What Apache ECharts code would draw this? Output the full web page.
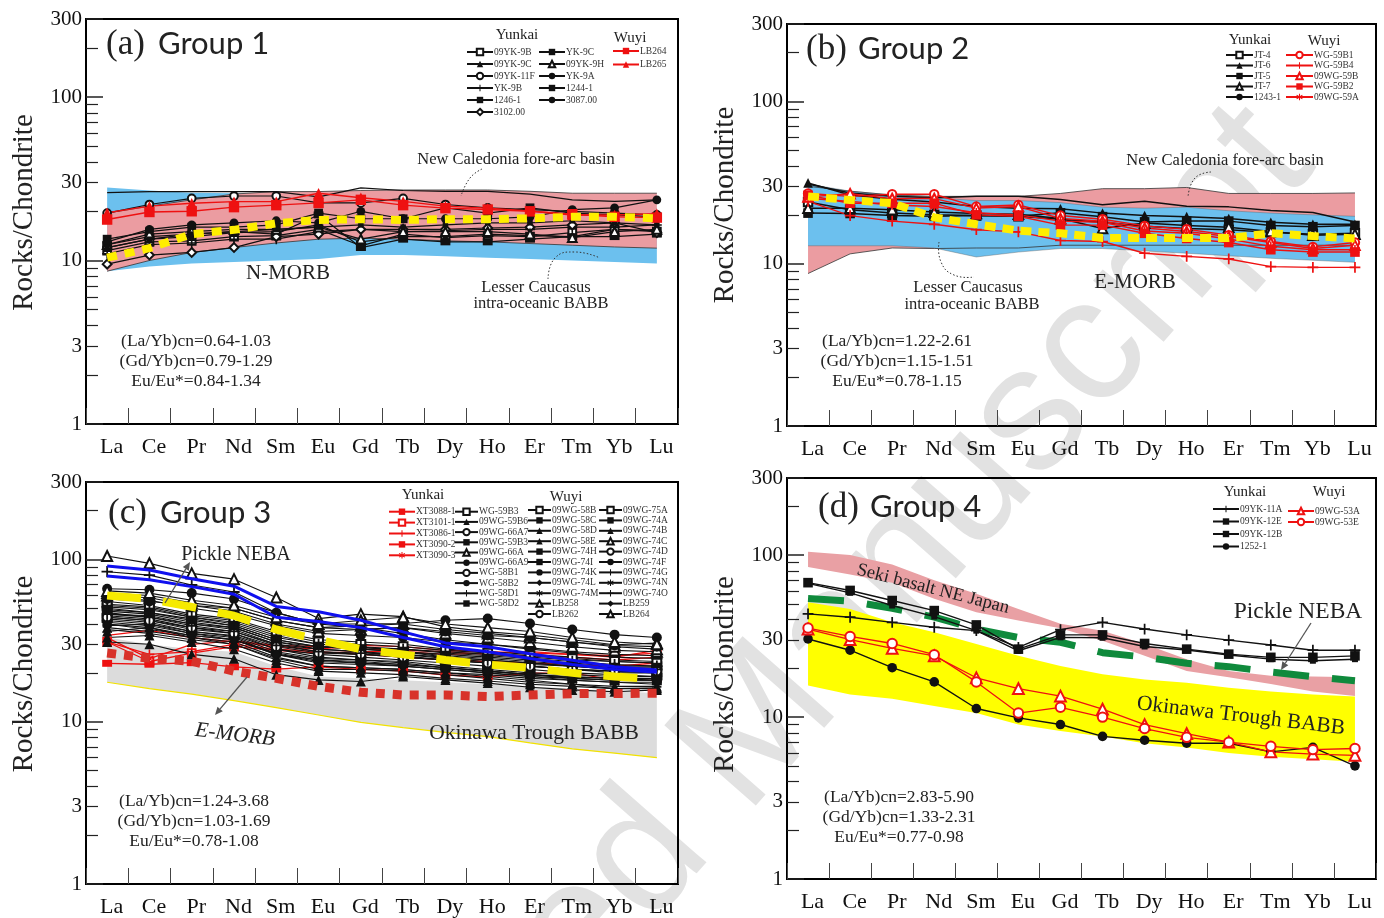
<!DOCTYPE html>
<html><head><meta charset="utf-8">
<script src="https://cdn.jsdelivr.net/npm/echarts@6/dist/echarts.min.js"></script>
<style>
html,body{margin:0;padding:0;background:#fff;width:1384px;height:918px;overflow:hidden}
.ch{position:absolute;left:0;top:0;width:1384px;height:918px}
</style></head><body>
<div id="cw" class="ch"></div>
<div id="ca" class="ch"></div><div id="cb" class="ch"></div><div id="cc" class="ch"></div><div id="cd" class="ch"></div>
<script>
// ---------------- DATA ----------------
const ELEMENTS = ['La','Ce','Pr','Nd','Sm','Eu','Gd','Tb','Dy','Ho','Er','Tm','Yb','Lu'];
const Y_LABELS = [1,3,10,30,100,300];
const Y_MINOR = [2,3,4,5,6,7,8,9,20,30,40,50,60,70,80,90,200];

// (a) Group 1
const A_YK_NAMES_1 = ['09YK-9B','09YK-9C','09YK-11F','YK-9B','1246-1','3102.00'];
const A_YK_NAMES_2 = ['YK-9C','09YK-9H','YK-9A','1244-1','3087.00'];
const A_WY_NAMES = ['LB264','LB265'];
const A_YK_VALUES = [
  [11.5,13.0,13.2,14.0,14.2,15.5,12.3,14.5,13.8,14.2,14.0,14.8,15.5,15.0],
  [12.0,13.5,14.0,14.8,15.0,16.5,13.0,14.0,14.0,14.5,14.2,14.0,15.5,15.2],
  [19.5,22.0,24.0,24.8,24.8,22.5,22.5,24.0,22.0,21.0,20.5,20.0,19.5,19.0],
  [11.0,12.5,12.8,13.5,13.5,15.0,15.5,15.0,15.2,15.5,15.5,16.0,16.0,16.5],
  [12.5,14.0,14.5,15.0,14.5,19.0,12.0,13.5,13.0,13.0,13.5,14.0,14.0,14.5],
  [9.5,10.8,11.2,12.0,14.0,14.5,15.5,15.5,15.5,15.8,16.0,16.5,17.0,14.8],
  [13.5,15.0,16.0,16.0,16.5,19.5,18.0,18.0,21.0,19.5,21.0,19.5,19.0,18.5],
  [12.5,14.5,15.0,15.5,15.5,16.0,13.5,15.0,15.0,15.0,14.5,13.8,15.0,15.5],
  [13.0,15.5,16.5,17.0,17.5,17.0,20.0,18.0,18.0,18.0,18.5,20.5,21.0,23.5],
  [12.0,13.5,14.5,15.0,15.5,16.0,16.5,16.0,16.5,17.0,17.0,17.5,17.0,16.5],
  [26.0,26.4,26.4,26.4,26.4,24.5,27.8,26.8,26.5,26.5,25.5,23.5,23.0,23.5]
];
const A_WY_VALUES = [
  [17.8,19.8,20.0,21.2,21.8,22.5,23.5,21.8,20.9,20.5,20.0,19.2,18.5,18.3],
  [19.6,21.5,22.4,22.9,22.9,25.8,24.2,23.0,21.5,20.9,20.1,19.0,19.0,19.3]
];
const A_NMORB = [10.4,11.9,14.5,15.4,16.9,17.7,17.9,17.7,17.9,17.9,18.1,18.5,18.5,18.1];
const A_NEWCAL_LOW = [8.6,10.0,11.2,12.0,12.8,13.5,13.7,13.5,13.2,13.0,12.7,12.4,12.1,11.9];
const A_NEWCAL_HIGH = [19.5,21.5,23.5,25.5,26.4,26.4,26.8,27.0,27.0,27.0,26.5,25.8,25.8,25.8];
const A_LESSER_LOW = [8.6,9.2,9.6,9.8,10.0,10.2,10.8,10.8,10.6,10.4,10.2,10.0,9.8,9.6];
const A_LESSER_HIGH = [28.0,26.8,26.0,25.8,25.5,25.0,24.5,24.0,23.5,23.0,22.5,22.0,21.5,21.0];

// (b) Group 2
const B_YK_NAMES = ['JT-4','JT-6','JT-5','JT-7','1243-1'];
const B_WY_NAMES = ['WG-59B1','WG-59B4','09WG-59B','WG-59B2','09WG-59A'];
const B_YK_VALUES = [
  [24.0,21.5,20.5,20.0,19.8,19.6,18.8,18.0,17.0,16.5,16.2,15.6,15.2,15.4],
  [31.5,26.5,25.0,24.0,22.5,22.0,21.8,20.5,19.8,19.5,19.0,18.0,17.5,17.5],
  [20.5,20.4,19.8,19.6,19.8,19.6,20.6,19.5,18.1,18.3,18.3,17.2,16.9,17.2],
  [22.0,22.0,21.5,20.8,20.4,20.2,19.0,16.5,17.8,17.2,16.8,15.8,15.0,15.2],
  [31.0,27.3,26.0,25.5,26.0,26.0,24.9,23.1,24.3,22.6,22.4,21.3,20.7,18.1]
];
const B_WY_VALUES = [
  [27.1,26.0,26.8,26.8,22.5,23.0,19.8,18.8,17.1,16.3,15.0,13.7,12.7,13.5],
  [24.2,19.8,18.3,17.5,16.2,15.7,13.9,13.7,11.6,11.1,10.7,9.6,9.5,9.5],
  [25.8,27.0,25.2,25.2,22.0,22.5,19.0,18.3,16.6,15.8,14.7,13.5,12.4,13.0],
  [26.4,23.6,23.6,23.6,20.0,19.6,17.3,17.3,15.4,14.3,13.5,12.2,11.8,11.8],
  [25.3,24.2,23.0,22.5,20.6,20.0,18.3,18.0,15.9,15.4,14.2,12.8,12.2,12.2]
];
const B_EMORB = [26.0,24.7,23.6,19.3,17.5,16.0,15.4,14.4,14.4,14.4,14.4,15.4,14.8,14.3];
const B_NEWCAL_LOW = [8.7,11.5,12.5,12.4,12.5,12.5,13.0,13.0,13.0,13.0,13.0,13.0,13.0,13.0];
const B_NEWCAL_HIGH = [30.0,28.0,26.5,26.0,26.0,26.0,27.1,29.0,29.0,29.5,27.1,27.1,27.1,27.3];
const B_LESSER_LOW = [12.9,12.9,12.9,12.5,11.0,11.8,12.4,12.4,12.0,11.6,11.2,10.8,10.5,10.2];
const B_LESSER_HIGH = [31.0,28.0,26.5,25.5,24.5,24.5,23.8,22.3,22.0,22.3,21.2,20.5,20.0,19.6];

// (c) Group 3
const C_YK_NAMES = ['XT3088-1','XT3101-1','XT3086-1','XT3090-2','XT3090-3'];
const C_WY_NAMES_1 = ['WG-59B3','09WG-59B6','09WG-66A7','09WG-59B3','09WG-66A','09WG-66A9','WG-58B1','WG-58B2','WG-58D1','WG-58D2'];
const C_WY_NAMES_2 = ['09WG-58B','09WG-58C','09WG-58D','09WG-58E','09WG-74H','09WG-74I','09WG-74K','09WG-74L','09WG-74M','LB258','LB262'];
const C_WY_NAMES_3 = ['09WG-75A','09WG-74A','09WG-74B','09WG-74C','09WG-74D','09WG-74F','09WG-74G','09WG-74N','09WG-74O','LB259','LB264'];
const C_YK_VALUES = [
  [34,36.5,33,31,29,28,29.5,29,27.5,27,26.5,26,25,27.5],
  [31,23.5,26.5,29,27.5,26.5,27,27,26,26.5,27,26,25.5,26.5],
  [31,26,27,30,28,27,26,25,24,23.5,23,22.5,22,23],
  [22.9,22.6,23.1,21.8,21.1,21.8,21.0,20.6,19.4,18.9,19.9,19.9,18.1,18.5],
  [33,24.5,30,31.5,29.5,29,28,27.5,27,26,25.5,25,24,25]
];
const C_WY_VALUES_1 = [
  [52,50,44,40,33,30,29,27,25,24,23,22,21,20.5],
  [31,30,26,24.4,19.5,18.1,17.7,19,18.1,17.3,16.3,15.7,15.3,15.7],
  [45,43,38,36,30,28,27,26,24.5,23.5,22.5,22,21,21],
  [48,46,41,38,31,28,27,25,24,23,22,21,20,20],
  [105,94.6,82,75.6,58.3,43.2,46,44.4,38.4,35.8,34.2,32,29.8,30.5],
  [66,65,62,57,47,40,40,40.3,42.2,43.2,40.3,37,34.4,33],
  [42,40,36,34,28,26,25,24,23,22,21,20,19.5,19],
  [58,56,50,46,39,35,34,33,31,30,28.5,27,26,25.5],
  [84,80,69.6,63,47,40,38,35,32,30,28,26.5,25,24.5],
  [40,37,34,32,26,24,23,22,21,20,19,18.5,18,18]
];
const C_WY_VALUES_2 = [
  [50,47,43,39,32,29,28,27,26,25,24,23,22,22],
  [44,42,37,35,28,25,24,23,21.5,20.5,19.5,18.5,18,18],
  [38,36,33,31,25,22,21.5,21,20,19,18,17,16.5,16.5],
  [36,38,33,30,24,21,21,20.5,19.5,18.5,17.5,17,16,16.2],
  [47,44,40,37,30,27,26,25.5,24,23,22,21,20.5,20],
  [43,41,36,33.5,27,24.5,24,23.5,22,21,20,19.5,19,19],
  [55,52,46,43,36,32,31,30,28,27,26,25,24,23.5],
  [39,40,35,33,26,23,22.5,22,21,20,19,18,17.5,17.5],
  [41,39,35,32,26.5,24,23.5,22.5,21.5,20.5,19.5,19,18.5,18.5],
  [60,58,52,48,40,36,37,38,35,33,31,29,27.5,27],
  [46,45,40,38,31,29,28.5,28,27,26,25,24,23.5,23]
];
const C_WY_VALUES_3 = [
  [53,51,45,42,35,31,30,29,27.5,26.5,25.5,24.5,23.5,23],
  [49,47,42,39,32,29,28,27,25.5,24.5,23.5,22.5,21.5,21.5],
  [33,34,31,28,23,20.5,20,19.5,18.5,17.8,17,16.5,16,16],
  [62,60,54,50,42,38,39,40,37,35,33,31,29,28],
  [44,42,38,35,29,26.5,26,25,24,23,22,21,20.5,20.5],
  [57,55,52,50,42,38,37,38,36,34,33,31,29.5,29],
  [51,49,44,41,34,30,29,28,26.5,25.5,24.5,23.5,22.5,22],
  [37,35,32,30,24.5,22,21.5,21,20,19.5,18.5,18,17.5,17],
  [46,44,39,36,29.5,27,26.5,26,25,24,23,22,21.5,21],
  [40,38,34,32,26,23.5,23,22.5,21.5,20.5,19.5,18.8,18.5,18],
  [64,62,56,52,44,40,42,44,40,38,36,33,31,30]
];
const C_BLUE_1 = [91,86,76,68.4,51.3,47.6,42.2,35.8,30.6,29.0,26.2,23.9,21.8,20.8];
const C_BLUE_2 = [79,75,68,61,44,41.5,38,33,29,27,24.5,22.5,21,20.2];
const C_PICKLE = [60,57,51,45,37,32,28,26,24,22.5,21.5,20,19,18.2];
const C_EMORB = [26.5,24.6,23.6,20.5,18.5,16.5,15.2,14.6,14.6,14.3,14.6,14.9,14.9,15.0];
const C_OKINAWA_LOW = [17.5,16.0,14.8,13.5,12.2,11.0,9.9,9.2,8.6,8.1,7.4,6.8,6.4,6.0];
const C_OKINAWA_HIGH = [33,30,28,27,22,19,18.5,18,17.5,17,16.5,16,15.5,15];

// (d) Group 4
const D_YK_NAMES = ['09YK-11A','09YK-12E','09YK-12B','1252-1'];
const D_WY_NAMES = ['09WG-53A','09WG-53E'];
const D_YK_VALUES = [
  [43.4,41.4,38.5,35.9,34.2,27.0,34.7,38.5,35.0,32.2,29.9,27.9,25.9,25.9],
  [67.7,60.6,52.5,45.5,37.1,26.3,32.2,32.2,28.5,26.3,24.5,23.4,23.4,23.9],
  [67.0,58.6,48.9,41.8,34.2,25.7,31.1,30.9,27.3,26.0,24.2,22.8,22.3,22.8],
  [30.4,25.9,20.2,16.5,11.3,9.9,9.0,7.6,7.2,6.9,6.9,6.1,6.5,5.0]
];
const D_WY_VALUES = [
  [35.0,30.1,26.6,23.9,17.5,15.0,13.5,11.2,9.0,7.9,7.0,6.1,5.9,5.8],
  [35.5,31.5,28.5,24.3,16.5,10.6,11.5,10.0,8.5,7.5,7.0,6.6,6.3,6.4]
];
const D_PICKLE = [54,52,47,41.5,35,31,29,25,23.5,21.5,20.5,19,17.8,16.8];
const D_SEKI_LOW = [84.6,75.9,67.7,53.8,44.5,39.5,35.4,29.6,23.9,19.3,17.6,16.0,14.4,13.5];
const D_SEKI_HIGH = [105,100.5,87.5,70,57.8,46.6,37.8,34.2,28.3,22.8,19.3,18.0,17.8,17.6];
const D_OKINAWA_LOW = [15.7,13.8,13.0,11.7,10.6,9.0,8.2,7.6,6.9,6.5,6.0,5.7,5.5,5.3];
const D_OKINAWA_HIGH = [51.3,46.6,38.5,33.4,28.3,23.9,20.7,18.4,17.1,16.3,15.2,14.4,13.8,13.4];

// ---------------- STYLE ----------------
const SERIF = "'Liberation Serif','Times New Roman',serif";
const SANS = "Lato,'Open Sans',sans-serif";
const SYM = {
  oSq:'emptyRect', sq:'rect', tri:'triangle', oTri:'emptyTriangle', oCir:'emptyCircle', cir:'circle',
  plus:'path://M4.2,0H5.8V4.2H10V5.8H5.8V10H4.2V5.8H0V4.2H4.2Z',
  star:'path://M4.3,0H5.7V3.3L8.6,1.4L9.4,2.6L6.5,4.6V5.4L9.4,7.4L8.6,8.6L5.7,6.7V10H4.3V6.7L1.4,8.6L0.6,7.4L3.5,5.4V4.6L0.6,2.6L1.4,1.4L4.3,3.3Z',
  dia:'diamond', oDia:'emptyDiamond', none:'none', bar:'path://M0,2.5H10V7.5H0Z', smSq:'rect'
};
const SIZE = {oSq:7,sq:8,tri:8,oTri:8,oCir:7,cir:8,plus:9,star:8,dia:8,oDia:8,none:0,bar:9,smSq:5};

function sample(name, values, key, color, scale, width) {
  const s = (SIZE[key] || 0) * (scale || 1);
  return {type:'line', name:name, data:values, symbol:SYM[key], symbolSize: key==='bar' ? [s, s*0.7] : s,
    lineStyle:{color:color, width:width||1.2}, itemStyle:{color:color}, z:3, silent:true};
}
function band(id, lower, upper, fill, edge, edgeW) {
  const diff = upper.map((u, i) => +(u - lower[i]).toFixed(3));
  return [
    {type:'line', data:lower, stack:id, symbol:'none', lineStyle:{color:edge, width:edgeW}, z:1, silent:true},
    {type:'line', data:diff, stack:id, symbol:'none', lineStyle:{color:edge, width:edgeW}, areaStyle:{color:fill, opacity:1}, z:1, silent:true}
  ];
}
function refLine(values, color, width, dash) {
  return {type:'line', data:values, symbol:'none', lineStyle:{color:color, width:width, type:dash, cap:'butt'}, z:4, silent:true};
}
function legendCol(names, left, top, iw, ih, gap) {
  return {data:names, orient:'vertical', left:left, top:top, itemWidth:iw, itemHeight:ih, itemGap:gap, padding:0,
    selectedMode:false, textStyle:{fontFamily:SERIF, fontSize:9.5, color:'#333', padding:[0,0,0,-4]}};
}
function txt(x, y, text, size, o) {
  o = o || {};
  return {type:'text', x:x, y:y, rotation:o.rot||0, z:100, silent:true,
    style:{text:text, fontFamily:o.family||SERIF, fontSize:size, fill:o.color||'#222', align:o.align||'center',
      verticalAlign:'middle', fontStyle:o.italic?'italic':'normal', fontWeight:o.weight||'normal'}};
}
function arrow(x1, y1, x2, y2, color) {
  const a = Math.atan2(y2 - y1, x2 - x1), L = 8, W = 3.5;
  const bx = x2 - L * Math.cos(a), by = y2 - L * Math.sin(a);
  const px = -Math.sin(a) * W, py = Math.cos(a) * W;
  return [
    {type:'line', shape:{x1:x1, y1:y1, x2:bx, y2:by}, style:{stroke:color, lineWidth:1.3}, z:100, silent:true},
    {type:'polygon', shape:{points:[[x2,y2],[bx+px,by+py],[bx-px,by-py]]}, style:{fill:color}, z:100, silent:true}
  ];
}
function dotted(points) {
  return {type:'polyline', shape:{points:points, smooth:0.5}, style:{stroke:'#333', lineWidth:1, lineDash:[1.5,2], fill:null}, z:100, silent:true};
}
function title(x, y, letter, group) {
  return [txt(x, y, letter, 35, {align:'left'}), txt(x + 52, y - 1, group, 31, {align:'left', family:SANS})];
}
function stats(cx, y, l1, l2, l3) {
  return [txt(cx, y, l1, 17.5), txt(cx, y + 20, l2, 17.5), txt(cx, y + 40, l3, 17.5)];
}

function panel(grid, series, legends, graphics, nameShift) {
  const LOGMAX = Math.log10(300);
  return {
    animation:false,
    grid:{left:grid[0], top:grid[1], width:grid[2], height:grid[3], show:true, borderColor:'#000', borderWidth:2},
    xAxis:{type:'category', data:ELEMENTS, boundaryGap:true,
      axisLine:{show:true, lineStyle:{color:'#000', width:2}},
      axisTick:{show:true, inside:true, length:16, interval:0, lineStyle:{color:'#444', width:1}},
      axisLabel:{interval:0, fontFamily:SERIF, fontSize:22, color:'#111', margin:12, padding:[0,0,0,9]}},
    yAxis:[
      {type:'log', logBase:10, min:1, max:300, axisLine:{show:false},
        axisTick:{show:true, inside:true, length:17, lineStyle:{color:'#222', width:1.5}},
        axisLabel:{show:false}, splitLine:{show:false}},
      {type:'value', min:0, max:LOGMAX, position:'left', axisLine:{show:false},
        axisTick:{show:true, inside:true, length:12, customValues:Y_MINOR.map(Math.log10), lineStyle:{color:'#222', width:1.2}},
        axisLabel:{customValues:Y_LABELS.map(Math.log10), formatter:v => String(Math.round(Math.pow(10, v))),
          fontFamily:SERIF, fontSize:21, color:'#111', margin:4},
        splitLine:{show:false},
        name:'Rocks/Chondrite', nameLocation:'middle', nameGap:47,
        nameTextStyle:{fontFamily:SERIF, fontSize:29, color:'#222', padding:[0,0,0,2*nameShift]}}
    ],
    legend:legends,
    series:series,
    graphic:graphics
  };
}

// ---------------- WATERMARK ----------------
echarts.init(document.getElementById('cw')).setOption({
  graphic:[{type:'text', x:1281, y:134, rotation:0.85, silent:true,
    style:{text:'Accepted Manuscript', fontFamily:"'Liberation Sans',Arial,sans-serif", fontSize:177,
      fill:'#e2e2e2', align:'right', verticalAlign:'middle'}}]
});

// ---------------- PANEL A ----------------
(function(){
  const s = [];
  s.push(...band('al', A_LESSER_LOW, A_LESSER_HIGH, '#6cc0ee', 'rgba(0,0,0,0)', 0));
  s.push(...band('an', A_NEWCAL_LOW, A_NEWCAL_HIGH, '#eb9ca1', '#333', 0.8));
  const names = A_YK_NAMES_1.concat(A_YK_NAMES_2);
  const syms = ['oSq','tri','oCir','plus','bar','oDia','sq','oTri','cir','smSq','none'];
  names.forEach((n, i) => s.push(sample(n, A_YK_VALUES[i], syms[i], '#111', 1.1)));
  const wsyms = ['sq','tri'];
  A_WY_NAMES.forEach((n, i) => s.push(sample(n, A_WY_VALUES[i], wsyms[i], '#ee1111', 1.3, 1.4)));
  s.push(refLine(A_NMORB, '#ffee00', 8, [10, 8]));
  const legends = [
    legendCol(A_YK_NAMES_1, 466, 47, 26, 8, 2),
    legendCol(A_YK_NAMES_2, 538, 47, 26, 8, 2),
    legendCol(A_WY_NAMES, 612, 46, 26, 8, 3.5)
  ];
  const g = [].concat(
    title(106, 45, '(a)', 'Group 1'),
    [txt(517, 35, 'Yunkai', 15), txt(630, 38, 'Wuyi', 15),
     txt(516, 160, 'New Caledonia fore-arc basin', 16.5),
     txt(288, 273, 'N-MORB', 21),
     txt(536, 288, 'Lesser Caucasus', 16.5), txt(541, 304, 'intra-oceanic BABB', 16.5),
     dotted([[482,169],[470,178],[461,196]]),
     dotted([[548,279],[555,258],[575,252],[600,258]])],
    stats(196, 341, '(La/Yb)cn=0.64-1.03', '(Gd/Yb)cn=0.79-1.29', 'Eu/Eu*=0.84-1.34')
  );
  echarts.init(document.getElementById('ca')).setOption(panel([86,19,592,405], s, legends, g, 9));
})();

// ---------------- PANEL B ----------------
(function(){
  const s = [];
  s.push(...band('bn', B_NEWCAL_LOW, B_NEWCAL_HIGH, '#eb9ca1', '#333', 0.8));
  s.push(...band('bl', B_LESSER_LOW, B_LESSER_HIGH, '#6cc0ee', 'rgba(80,80,80,0.6)', 0.6));
  const ysyms = ['oSq','tri','sq','oTri','none'];
  B_YK_NAMES.forEach((n, i) => s.push(sample(n, B_YK_VALUES[i], ysyms[i], '#111', 1.2, 1.5)));
  const wsyms = ['oCir','plus','oTri','sq','star'];
  B_WY_NAMES.forEach((n, i) => s.push(sample(n, B_WY_VALUES[i], wsyms[i], '#ee1111', 1.2, 1.4)));
  s.push(refLine(B_EMORB, '#ffee00', 8, [11, 7]));
  const legends = [
    legendCol(B_YK_NAMES, 1225, 50, 27, 8, 0.5),
    legendCol(B_WY_NAMES, 1285, 50, 27, 8, 0.5)
  ];
  const g = [].concat(
    title(806, 50, '(b)', 'Group 2'),
    [txt(1250, 40, 'Yunkai', 15), txt(1324, 41, 'Wuyi', 15),
     txt(1225, 161, 'New Caledonia fore-arc basin', 16.5),
     txt(1135, 282, 'E-MORB', 21),
     txt(968, 288, 'Lesser Caucasus', 16.5), txt(972, 305, 'intra-oceanic BABB', 16.5),
     dotted([[1211,172],[1195,178],[1188,197]]),
     dotted([[939,242],[941,262],[954,275],[974,277]])],
    stats(897, 341, '(La/Yb)cn=1.22-2.61', '(Gd/Yb)cn=1.15-1.51', 'Eu/Eu*=0.78-1.15')
  );
  echarts.init(document.getElementById('cb')).setOption(panel([787,24,589,402], s, legends, g, 20));
})();

// ---------------- PANEL C ----------------
(function(){
  const s = [];
  s.push(...band('co', C_OKINAWA_LOW, C_OKINAWA_HIGH, '#dcdcdc', '#f2e200', 1.2));
  s[1].lineStyle = {width:0};
  const ysyms = ['smSq','oSq','plus','bar','star'];
  C_YK_NAMES.forEach((n, i) => s.push(sample(n, C_YK_VALUES[i], ysyms[i], '#ee1111', 1.1, 1.3)));
  const sy1 = ['oSq','tri','oCir','sq','oTri','cir','oCir','cir','plus','smSq'];
  const sy2 = ['oSq','sq','tri','tri','smSq','bar','none','dia','star','oTri','oCir'];
  const sy3 = ['oSq','sq','tri','oTri','oCir','cir','plus','star','plus','dia','oTri'];
  C_WY_NAMES_1.forEach((n, i) => s.push(sample(n, C_WY_VALUES_1[i], sy1[i], '#111', 1.25, 1.1)));
  C_WY_NAMES_2.forEach((n, i) => s.push(sample(n, C_WY_VALUES_2[i], sy2[i], '#111', 1.25, 1.1)));
  C_WY_NAMES_3.forEach((n, i) => s.push(sample(n, C_WY_VALUES_3[i], sy3[i], '#111', 1.25, 1.1)));
  s.push(refLine(C_BLUE_1, '#1010ee', 3, 'solid'));
  s.push(refLine(C_BLUE_2, '#1010ee', 3, 'solid'));
  s.push(refLine(C_EMORB, '#d8322a', 9, [9, 8]));
  s.push(refLine(C_PICKLE, '#f6ea00', 8, [34, 22]));
  const legends = [
    legendCol(C_YK_NAMES, 388, 506.7, 26, 8, 0.9),
    legendCol(C_WY_NAMES_1, 454, 506.7, 23, 8, 0.2),
    legendCol(C_WY_NAMES_2, 527, 505, 23, 8, 0.4),
    legendCol(C_WY_NAMES_3, 598, 505, 23, 8, 0.4)
  ];
  const g = [].concat(
    title(108, 514, '(c)', 'Group 3'),
    [txt(423, 495, 'Yunkai', 15), txt(566, 497, 'Wuyi', 15),
     txt(236, 555, 'Pickle NEBA', 20),
     txt(235, 735, 'E-MORB', 21.5, {italic:true, rot:-0.12}),
     txt(534, 733, 'Okinawa Trough BABB', 21.5)],
    arrow(165, 603, 190, 562, '#555'),
    arrow(247, 677, 215, 715, '#555'),
    stats(194, 801, '(La/Yb)cn=1.24-3.68', '(Gd/Yb)cn=1.03-1.69', 'Eu/Eu*=0.78-1.08')
  );
  echarts.init(document.getElementById('cc')).setOption(panel([86,482,592,402], s, legends, g, 9));
})();

// ---------------- PANEL D ----------------
(function(){
  const s = [];
  s.push(...band('ds', D_SEKI_LOW, D_SEKI_HIGH, '#e9a0a4', 'rgba(0,0,0,0)', 0));
  s.push(...band('do', D_OKINAWA_LOW, D_OKINAWA_HIGH, '#ffff00', 'rgba(0,0,0,0)', 0));
  s.push(refLine(D_PICKLE, '#0f8a3c', 7, [36, 23]));
  const ysyms = ['plus','sq','smSq','cir'];
  D_YK_NAMES.forEach((n, i) => s.push(sample(n, D_YK_VALUES[i], ysyms[i], '#111', 1.2, 1.4)));
  const wsyms = ['oTri','oCir'];
  D_WY_NAMES.forEach((n, i) => s.push(sample(n, D_WY_VALUES[i], wsyms[i], '#ee1111', 1.35, 1.3)));
  s.forEach(x => { if (x.name && D_YK_NAMES.concat(D_WY_NAMES).includes(x.name)) x.z = 5; });
  const legends = [
    legendCol(D_YK_NAMES, 1212, 504, 26, 8, 2.5),
    legendCol(D_WY_NAMES, 1287, 506, 26, 8, 1)
  ];
  const g = [].concat(
    title(818, 508, '(d)', 'Group 4'),
    [txt(1245, 492, 'Yunkai', 15), txt(1329, 492, 'Wuyi', 15),
     txt(1298, 612, 'Pickle NEBA', 23.5),
     txt(1241, 716, 'Okinawa Trough BABB', 21.5, {rot:-0.12}),
     txt(933, 589, 'Seki basalt NE Japan', 18.5, {rot:-0.25})],
    arrow(1311, 623, 1281, 670, '#555'),
    stats(899, 797, '(La/Yb)cn=2.83-5.90', '(Gd/Yb)cn=1.33-2.31', 'Eu/Eu*=0.77-0.98')
  );
  echarts.init(document.getElementById('cd')).setOption(panel([787,478,589,401], s, legends, g, 4));
})();
</script>
</body></html>
